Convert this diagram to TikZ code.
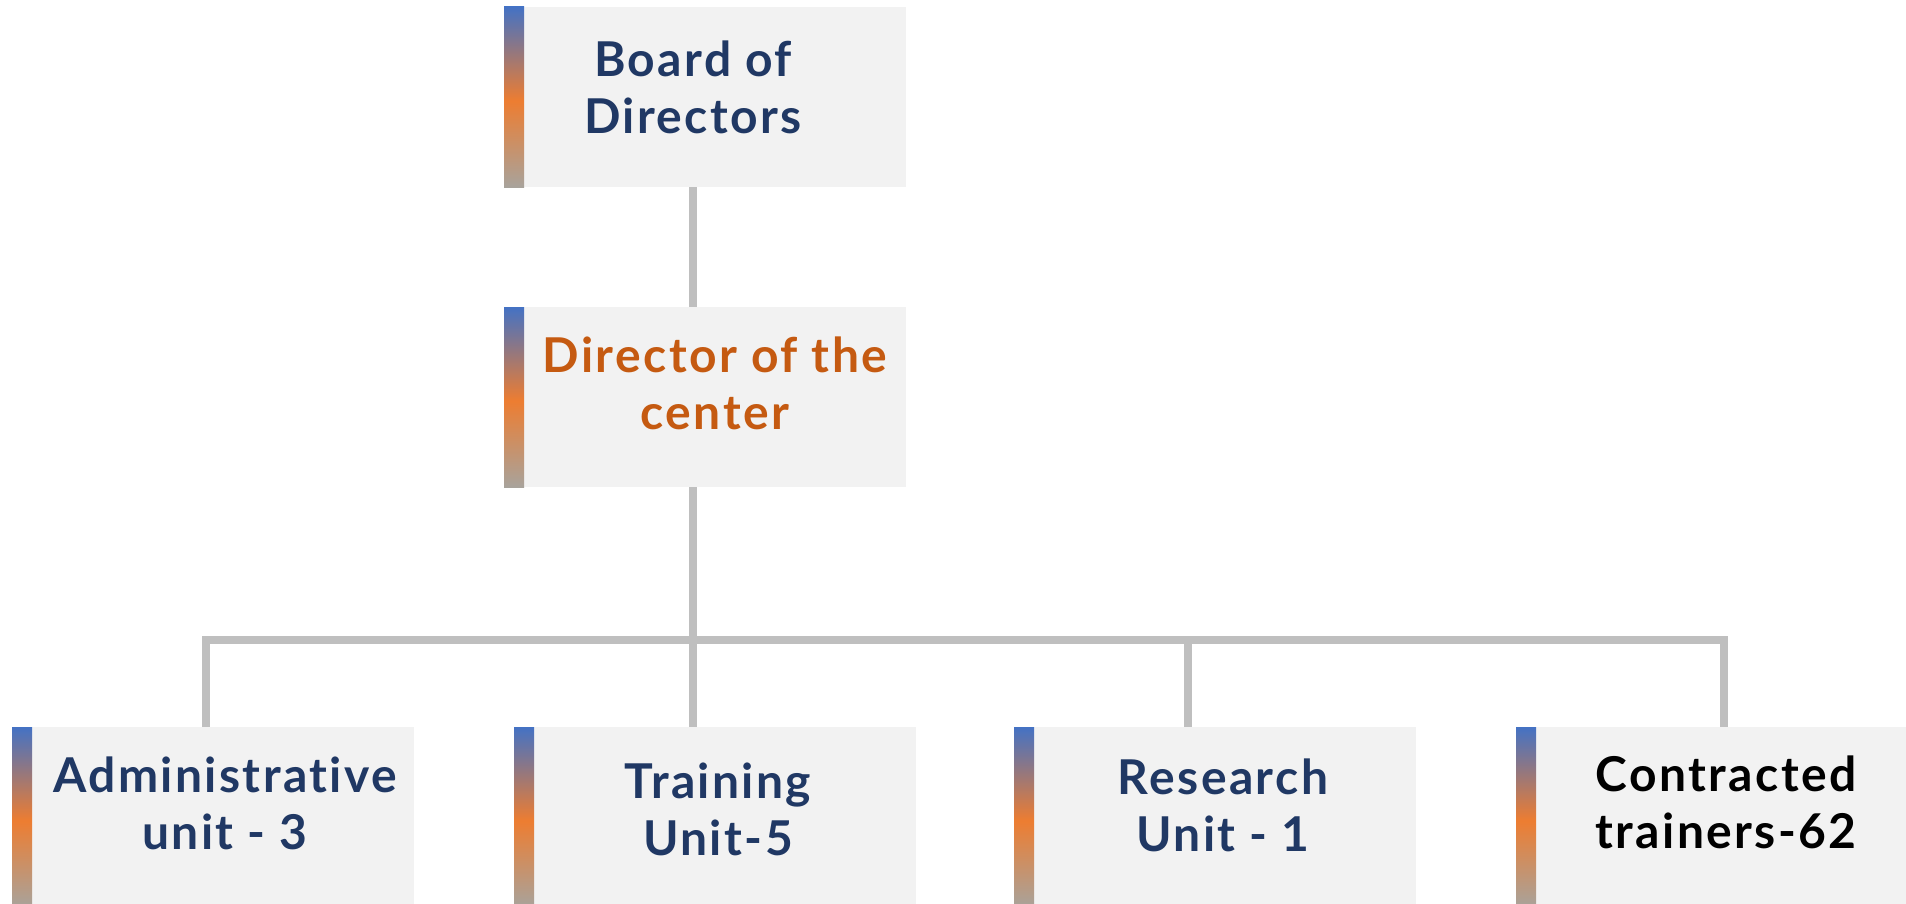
\documentclass[tikz,border=0pt]{standalone}
\usepackage{fontspec}
\setmainfont{Lato}[LetterSpace=5, Ligatures=NoCommon]
\definecolor{boxfill}{HTML}{F2F2F2}
\definecolor{navy}{HTML}{203864}
\definecolor{rust}{HTML}{C55A11}
\definecolor{linegray}{HTML}{BFBFBF}
\definecolor{sblue}{HTML}{4472C4}
\definecolor{sorange}{HTML}{ED7D31}
\definecolor{sgray}{HTML}{A8A39C}
\pgfdeclareverticalshading{stripshade}{100bp}{color(0bp)=(sgray); color(25bp)=(sgray); color(49bp)=(sorange); color(75bp)=(sblue); color(100bp)=(sblue)}
\tikzset{
  box/.style={fill=boxfill, draw=none, inner sep=0pt, minimum width=402pt, minimum height=180pt, anchor=north west},
  conn/.style={draw=linegray, line width=8pt, line join=miter},
  lbl/.style={anchor=base, inner sep=0pt, text=navy, font=\bfseries\fontsize{48}{57}\selectfont},
}
\newcommand{\mystrip}[1]{\shade[shading=stripshade] (#1.north west) rectangle ([xshift=20pt]#1.south west);}
\newcommand{\twolines}[2]{\begin{tabular}[t]{@{}c@{}}#1\\#2\end{tabular}}
\begin{document}
\begin{tikzpicture}[x=1pt,y=-1pt]
\useasboundingbox (0,0) rectangle (1906,904);
\clip (0,0) rectangle (1906,904);
% boxes
\node[box] (bod) at (504,7) {};
\node[box] (dir) at (504,307) {};
\node[box] (adm) at (12,727) {};
\node[box] (trn) at (514,727) {};
\node[box] (res) at (1014,727) {};
\node[box] (con) at (1516,727) {};
\mystrip{bod}\mystrip{dir}\mystrip{adm}\mystrip{trn}\mystrip{res}\mystrip{con}
% bus coordinates
\coordinate (c1) at (206,640);
\coordinate (c2) at (693,640);
\coordinate (c3) at (1188,640);
\coordinate (c4) at (1724,640);
% connectors
\draw[conn] (bod.south -| c2) -- (dir.north -| c2);
\draw[conn] (dir.south -| c2) -- (trn.north -| c2);
\draw[conn] (adm.north -| c1) -- (c1) -- (c4) -- (con.north -| c4);
\draw[conn] (c3) -- (res.north -| c3);
% labels
\node[lbl] (tbod) at (693,77) {\twolines{Board of}{Directors}};
\node[lbl, text=rust] (tdir) at (715,372) {\twolines{Director of the}{center}};
\node[lbl] (tadm) at (225,792) {\twolines{Administrative}{unit - 3}};
\node[lbl] (ttrn) at (718,798) {\twolines{Training}{Unit-5}};
\node[lbl] (tres) at (1223,794) {\twolines{Research}{Unit - 1}};
\node[lbl, text=black] (tcon) at (1726,791) {\twolines{Contracted}{trainers-62}};
\end{tikzpicture}
\end{document}
